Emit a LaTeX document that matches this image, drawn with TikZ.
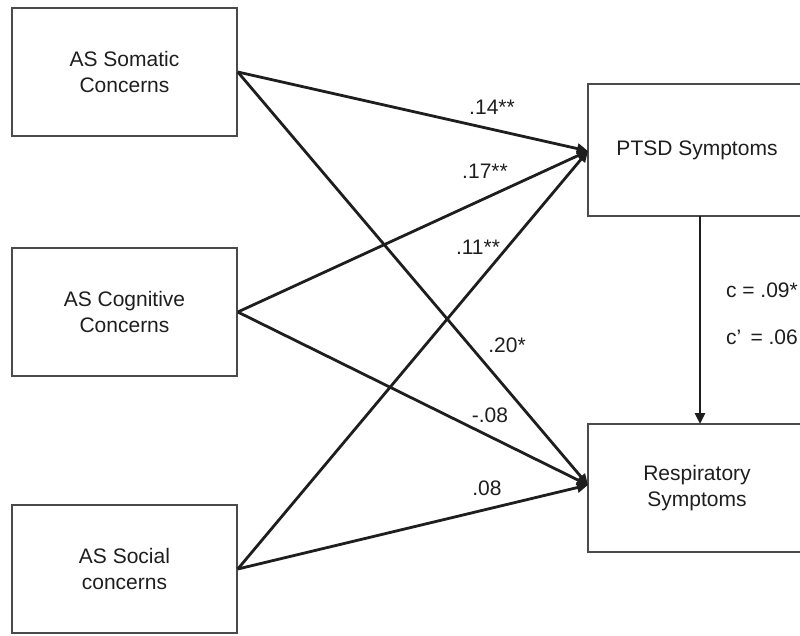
\documentclass[tikz,border=0pt]{standalone}
\usepackage{fontspec}
\setmainfont{Liberation Sans}
\usetikzlibrary{arrows.meta}
\definecolor{ink}{HTML}{1E1E1E}
\definecolor{frame}{HTML}{4A4A4A}
\tikzset{
    varbox/.style={draw=frame, line width=1.6pt, minimum width=225pt, minimum height=128pt,
        align=center, text=ink, inner sep=0pt},
    effect/.style={draw=ink, line width=2.8pt, -{Triangle[length=11pt,width=10pt]}},
    coef/.style={text=ink, inner sep=0pt}
}
\begin{document}
\begin{tikzpicture}[x=1pt, y=-1pt, font=\fontsize{21}{26}\selectfont]
    \useasboundingbox (0,0) rectangle (800,635);
    % Predictores
    \node[varbox] (som) at (124.5, 72) {AS Somatic\\Concerns};
    \node[varbox] (cog) at (124.5, 312) {AS Cognitive\\Concerns};
    \node[varbox] (soc) at (124.5, 569) {AS Social\\concerns};

    % Mediador y resultado
    \node[varbox, minimum width=218pt, minimum height=132pt] (ptsd) at (697, 150) {PTSD Symptoms};
    \node[varbox, minimum width=218pt, minimum height=128pt] (resp) at (697, 488) {Respiratory\\Symptoms};
    \coordinate (ptsdin) at (588, 151);
    \coordinate (respin) at (588, 485);
    \coordinate (ptsdout) at (700, 216);
    \coordinate (respup) at (700, 424);

    % Caminos
    \foreach \from/\to in {som/ptsdin, cog/ptsdin, soc/ptsdin, som/respin, cog/respin, soc/respin} {
        \draw[effect] (\from.east) -- (\to);
    }
    \draw[effect] (ptsdout) -- (respup);

    % Coeficientes
    \foreach \x/\y/\lbl/\val in {
        492/107/b14/.14**,
        485/171/b17/.17**,
        478/247/b11/.11**,
        507/345/b20/.20*,
        490/415/b08n/-.08,
        487/488/b08/.08
        } {
        \node[coef] (\lbl) at (\x, \y) {\val};
    }
    \node[coef, anchor=east] (ctot) at (798, 290) {c = .09*};
    \node[coef, anchor=east] (cdir) at (798, 337) {c’\, = .06};
\end{tikzpicture}
\end{document}
